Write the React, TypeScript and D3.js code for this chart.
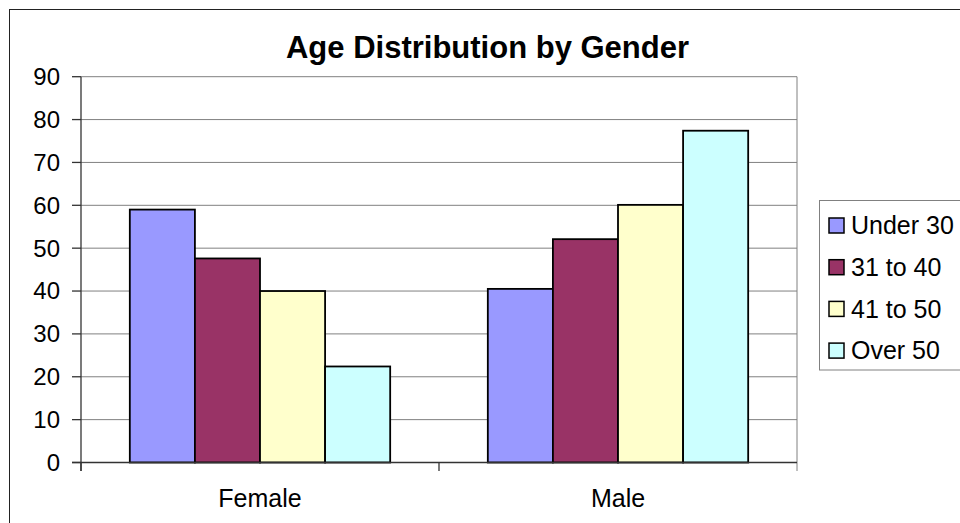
import React from 'react';
import * as d3 from 'd3';

const genders = ['Female', 'Male'];
const ageGroups = ['Under 30', '31 to 40', '41 to 50', 'Over 50'];
const femaleValues = [59, 47.6, 40, 22.4];
const maleValues = [40.5, 52.1, 60.1, 77.4];
const yTicks = [0, 10, 20, 30, 40, 50, 60, 70, 80, 90];
const groupColors = ['#9999FF', '#993366', '#FFFFCC', '#CCFFFF'];

const seriesByGender: Record<string, number[]> = { Female: femaleValues, Male: maleValues };

const App: React.FC = () => {
 const W = 960;
 const H = 523;
 const plot = { left: 81, right: 797, top: 76.7, bottom: 462.5 };
 const font = '"Liberation Sans", Arial, sans-serif';

 const x = d3.scaleBand<string>().domain(genders).range([plot.left, plot.right]).padding(0);
 const y = d3.scaleLinear().domain([0, 90]).range([plot.bottom, plot.top]);

 // Excel style: gap width 150% of a bar
 const barW = x.bandwidth() / (ageGroups.length + 1.5);
 const inner = d3.scaleBand<string>().domain(ageGroups).range([0, barW * ageGroups.length]).padding(0);
 const gapOffset = barW * 0.75;

 const legend = { x: 819, y: 200.5, rowH: 41.7 };

 return (
 <svg width={W} height={H} style={{ position: 'absolute', left: 0, top: 0, background: '#fff' }}>
 {/* outer chart frame */}
 <rect x={9.5} y={9.5} width={W + 10} height={H + 10} fill="#fff" stroke="#222" strokeWidth={1} />

 <text x={487.5} y={58} textAnchor="middle" fontFamily={font} fontWeight="bold" fontSize={31} fill="#000">
 Age Distribution by Gender
 </text>

 {/* gridlines */}
 {yTicks.filter(t => t > 0).map(t => (
 <line key={t} x1={plot.left} x2={plot.right} y1={y(t)} y2={y(t)} stroke="#808080" strokeWidth={1} />
 ))}
 <line x1={plot.right} x2={plot.right} y1={plot.top} y2={plot.bottom + 8.5} stroke="#808080" strokeWidth={1} />

 {/* bars */}
 {genders.map(g => (
 <g key={g} transform={`translate(${(x(g) ?? 0) + gapOffset},0)`}>
 {seriesByGender[g].map((v, i) => (
 <rect
 key={ageGroups[i]}
 x={inner(ageGroups[i])}
 y={y(v)}
 width={inner.bandwidth()}
 height={y(0) - y(v)}
 fill={groupColors[i]}
 stroke="#000"
 strokeWidth={1.8}
 />
 ))}
 </g>
 ))}

 {/* axes */}
 <line x1={plot.left} x2={plot.left} y1={plot.top} y2={plot.bottom + 8.5} stroke="#333" strokeWidth={1.3} />
 <line x1={plot.left - 9} x2={plot.right} y1={plot.bottom} y2={plot.bottom} stroke="#333" strokeWidth={1.3} />
 {yTicks.map(t => (
 <g key={t}>
 <line x1={plot.left - 9} x2={plot.left} y1={y(t)} y2={y(t)} stroke="#333" strokeWidth={1.3} />
 <text x={60} y={y(t)} dy="0.35em" textAnchor="end" fontFamily={font} fontSize={24} fill="#000">
 {t}
 </text>
 </g>
 ))}
 {[...genders.map(g => x(g) ?? 0)].map((px, i) => (
 <line key={i} x1={px} x2={px} y1={plot.bottom} y2={plot.bottom + 8.5} stroke="#333" strokeWidth={1.3} />
 ))}
 {genders.map(g => (
 <text key={g} x={(x(g) ?? 0) + x.bandwidth() / 2} y={507} textAnchor="middle" fontFamily={font} fontSize={25} fill="#000">
 {g}
 </text>
 ))}

 {/* legend */}
 <rect x={legend.x + 0.5} y={legend.y} width={200} height={169.5} fill="#fff" stroke="#808080" strokeWidth={1} />
 {ageGroups.map((a, i) => {
 const cy = legend.y + 25 + i * legend.rowH;
 return (
 <g key={a}>
 <rect x={829} y={cy - 7.5} width={15} height={15} fill={groupColors[i]} stroke="#000" strokeWidth={1.5} />
 <text x={851} y={cy} dy="0.35em" fontFamily={font} fontSize={25} fill="#000">
 {a}
 </text>
 </g>
 );
 })}
 </svg>
 );
};

export default App;
